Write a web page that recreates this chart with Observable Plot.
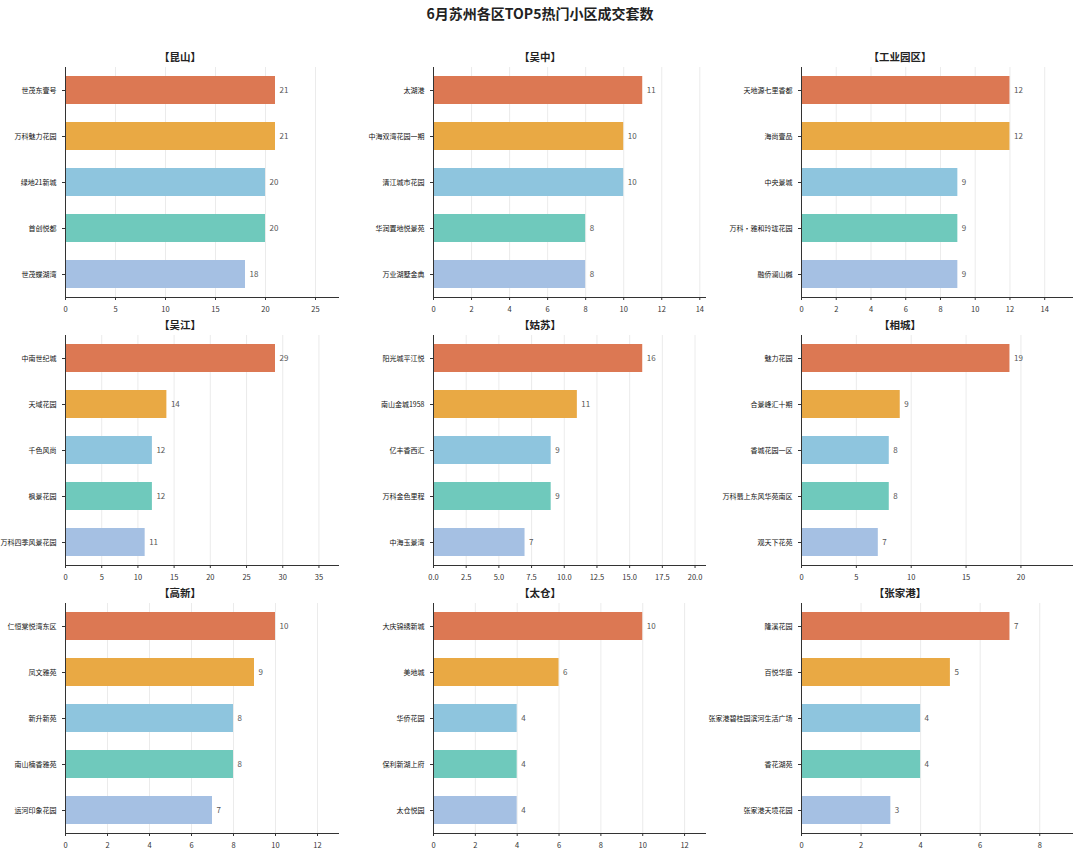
<!DOCTYPE html>
<html><head><meta charset="utf-8">
<script src="https://cdn.jsdelivr.net/npm/d3@7"></script>
<script src="https://cdn.jsdelivr.net/npm/@observablehq/plot@0.6"></script>
<style>
body{margin:0;background:#fff;font-family:"Noto Sans CJK SC","Noto Sans",sans-serif;}
#title{height:40px;line-height:26px;text-align:center;font-size:14px;font-weight:bold;color:#222;}
#grid{display:grid;grid-template-columns:360px 360px 360px;margin-top:5px;}
.ptitle{height:22px;line-height:24px;text-align:center;font-size:10.5px;font-weight:bold;color:#222;}
svg{overflow:visible;}
</style></head><body>
<div id="title">6月苏州各区TOP5热门小区成交套数</div>
<div id="grid"></div>
<script>
const districts = ["昆山","吴中","工业园区","吴江","姑苏","相城","高新","太仓","张家港"];
const names = [
 ["世茂东壹号","万科魅力花园","绿地21新城","首创悦都","世茂蝶湖湾"],
 ["太湖港","中海双湾花园一期","清江城市花园","华润置地悦景苑","万业湖墅金典"],
 ["天地源七里香都","海尚壹品","中央景城","万科·雅和玲珑花园","融侨澜山樾"],
 ["中南世纪城","天域花园","千色风尚","枫景花园","万科四季风景花园"],
 ["阳光城平江悦","南山金城1958","亿丰香西汇","万科金色里程","中海玉景湾"],
 ["魅力花园","合景峰汇十期","香城花园一区","万科翡上东风华苑南区","观天下花苑"],
 ["仁恒棠悦湾东区","凤文雅苑","新升新苑","南山楠香雅苑","运河印象花园"],
 ["大庆锦绣新城","美地城","华侨花园","保利新湖上府","太仓悦园"],
 ["隆溪花园","百悦华庭","张家港碧桂园滨河生活广场","香花湖苑","张家港天境花园"]
];
const counts = [
 [21,21,20,20,18],[11,10,10,8,8],[12,12,9,9,9],
 [29,14,12,12,11],[16,11,9,9,7],[19,9,8,8,7],
 [10,9,8,8,7],[10,6,4,4,4],[7,5,4,4,3]
];
const tickValues = [
 [0,5,10,15,20,25],[0,2,4,6,8,10,12,14],[0,2,4,6,8,10,12,14],
 [0,5,10,15,20,25,30,35],[0,2.5,5,7.5,10,12.5,15,17.5,20],[0,5,10,15,20],
 [0,2,4,6,8,10,12],[0,2,4,6,8,10,12],[0,2,4,6,8]
];
const colors = ["#dc7853","#e9a944","#8ec5de","#6fc9bc","#a5c0e3"];
const mLeft = [65,73,81], mRight = [22,15,8];
const grid = document.getElementById("grid");
districts.forEach((d,i)=>{
  const col = i%3;
  const data = names[i].map((n,j)=>({name:n,value:counts[i][j],rank:j}));
  const max = d3.max(counts[i]);
  const div = document.createElement("div");
  const t = document.createElement("div");
  t.className="ptitle"; t.textContent = "【"+d+"】";
  div.appendChild(t);
  const fmt = i===4 ? d3.format(".1f") : d3.format("d");
  const p = Plot.plot({
    width:360, height:246,
    marginLeft:mLeft[col], marginRight:mRight[col], marginTop:0, marginBottom:16,
    style:{fontSize:"7.5px",fontFamily:"'Noto Sans CJK SC',sans-serif",color:"#333",overflow:"visible"},
    x:{domain:[0,max*1.3]},
    y:{domain:names[i], paddingInner:0.4, paddingOuter:0.2},
    color:{domain:[0,1,2,3,4], range:colors},
    marks:[
      Plot.gridX(tickValues[i],{stroke:"#ddd",strokeOpacity:0.6}),
      Plot.barX(data,{x:"value",y:"name",fill:"rank"}),
      Plot.text(data,{x:"value",y:"name",text:d=>String(d.value),dx:4,textAnchor:"start",fill:"#555",fontSize:8}),
      Plot.axisX({ticks:tickValues[i],tickFormat:fmt,tickSize:3,label:null,fill:"#333"}),
      Plot.axisY({tickSize:3,label:null,fill:"#111",fontSize:7}),
      Plot.ruleX([0],{stroke:"#333"}),
      Plot.frame({anchor:"bottom",stroke:"#333"})
    ]
  });
  div.appendChild(p);
  grid.appendChild(div);
});
</script></body></html>
